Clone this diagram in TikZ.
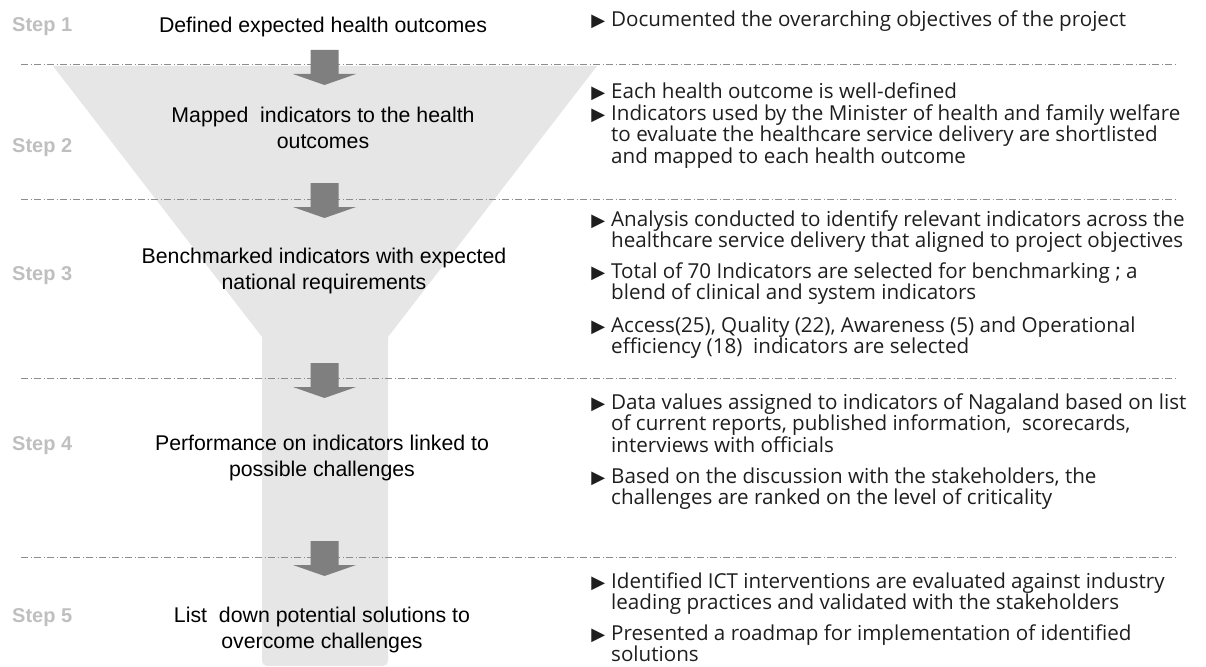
\documentclass[tikz,border=0pt]{standalone}
\usepackage{fontspec}
\setmainfont{Liberation Sans}
\newfontfamily\notefont{Open Sans}
\newfontfamily\symfont{DejaVu Sans}

\definecolor{funnelgray}{HTML}{E6E6E6}
\definecolor{arrowgray}{HTML}{7F7F7F}
\definecolor{stepgray}{HTML}{BFBFBF}
\definecolor{rulegray}{HTML}{8C8C8C}
\definecolor{notetext}{HTML}{1E1E1E}

\newcommand{\notebullet}{\llap{{\symfont\fontsize{18}{18}\selectfont ▶}\hspace{6pt}}}

% multi-line nodes are placed by the baseline of their last line
\tikzset{
  steplabel/.style={anchor=base west, inner sep=0pt, text=stepgray,
    font=\bfseries\fontsize{20}{24}\selectfont},
  stagetext/.style={anchor=base, inner sep=0pt, align=center, text=black,
    font=\fontsize{21.3}{26.5}\selectfont},
  notetext/.style={anchor=base west, inner sep=0pt, align=left, text=notetext,
    font=\notefont\fontsize{20.6}{21.7}\selectfont},
  separator/.style={draw=rulegray, line width=0.8pt,
    dash pattern=on 7pt off 2.5pt on 1.2pt off 2.3pt},
  pics/downarrow/.style={code={
    \fill[arrowgray] (-14,0) -- (14,0) -- (14,24) -- (31.5,24) -- (0,35)
      -- (-31.5,24) -- (-14,24) -- cycle;}}
}

\begin{document}
\begin{tikzpicture}[x=1pt, y=-1pt]
\useasboundingbox (0,0) rectangle (1206,666);

% funnel and its stem
\fill[funnelgray] (53,66) -- (597,66) -- (388,337)
  [rounded corners=5pt] -- (388,666) -- (262,666) [sharp corners] -- (262,337) -- cycle;

% separators between the steps
\foreach \yy in {64,199,378,557}
  \draw[separator] (21,\yy) -- (1177,\yy);

% block arrows down the funnel
\pic (a1) at (324.5,50) {downarrow};
\pic (a2) at (324.5,183) {downarrow};
\pic (a3) at (324.5,363) {downarrow};
\pic (a4) at (324.5,541) {downarrow};

% step labels
\node[steplabel] (s1) at (12,32) {Step 1};
\node[steplabel] (s2) at (12,152) {Step 2};
\node[steplabel] (s3) at (12,280) {Step 3};
\node[steplabel] (s4) at (12,450) {Step 4};
\node[steplabel] (s5) at (12,622) {Step 5};

% stage descriptions
\node[stagetext] (t1) at (323,33) {Defined expected health outcomes};
\node[stagetext] (t2) at (323,148.5) {Mapped~ indicators to the health\\outcomes};
\node[stagetext] (t3) at (324,289.5) {Benchmarked indicators with expected\\national requirements};
\node[stagetext] (t4) at (322,476.5) {Performance on indicators linked to\\possible challenges};
\node[stagetext] (t5) at (322,648.5) {List~ down potential solutions to\\overcome challenges};

% notes for each step
\node[notetext] (n1) at (611,27) {\notebullet Documented the overarching objectives of the project};
\node[notetext] (n2a) at (611,99) {\notebullet Each health outcome is well-defined};
\node[notetext] (n2b) at (611,163.4) {\notebullet Indicators used by the Minister of health and family welfare\\to evaluate the healthcare service delivery are shortlisted\\and mapped to each health outcome};
\node[notetext] (n3a) at (611,247.7) {\notebullet Analysis conducted to identify relevant indicators across the\\healthcare service delivery that aligned to project objectives};
\node[notetext] (n3b) at (611,299.7) {\notebullet Total of 70 Indicators are selected for benchmarking ; a\\blend of clinical and system indicators};
\node[notetext] (n3c) at (611,353.7) {\notebullet Access(25), Quality (22), Awareness (5) and Operational\\efficiency (18)~ indicators are selected};
\node[notetext] (n4a) at (611,452.4) {\notebullet Data values assigned to indicators of Nagaland based on list\\of current reports, published information,~ scorecards,\\interviews with officials};
\node[notetext] (n4b) at (611,504.7) {\notebullet Based on the discussion with the stakeholders, the\\challenges are ranked on the level of criticality};
\node[notetext] (n5a) at (611,609.7) {\notebullet Identified ICT interventions are evaluated against industry\\leading practices and validated with the stakeholders};
\node[notetext] (n5b) at (611,661.7) {\notebullet Presented a roadmap for implementation of identified\\solutions};
\end{tikzpicture}
\end{document}
